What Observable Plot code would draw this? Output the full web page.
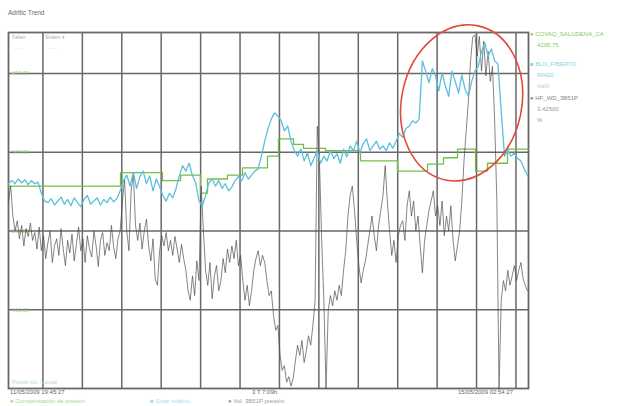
<!DOCTYPE html>
<html>
<head>
<meta charset="utf-8">
<script src="https://cdn.jsdelivr.net/npm/d3@7"></script>
<script src="https://cdn.jsdelivr.net/npm/@observablehq/plot@0.6"></script>
<style>
  html, body { margin: 0; padding: 0; background: #fff; }
  #wrap { position: relative; width: 624px; height: 406px; overflow: hidden; font-family: "Liberation Sans", Arial, sans-serif; }
  #wrap svg { position: absolute; left: 0; top: 0; }
  .t { position: absolute; white-space: nowrap; font-size: 6px; line-height: 7px; }
</style>
</head>
<body>
<div id="wrap"></div>
<script>
// Recording window
const start = new Date(Date.UTC(2009, 4, 11, 19, 45, 27));
const spanHours = 79.15;
const gridStart = new Date(Date.UTC(2009, 4, 12, 1, 0, 0));
const gridEveryHours = 6;
const yTicks = [100, 200, 300, 400];

// HF_WD_3B51P, sampled every 20 minutes
const blackStepMinutes = 20;
const blackValues = [
  238, 257, 219, 200, 213, 190, 207, 181, 203, 193, 210, 188, 198, 177, 205,
  175, 194, 165, 185, 200, 160, 181, 190, 169, 203, 177, 156, 188, 172, 196,
  162, 183, 205, 175, 190, 160, 194, 177, 167, 200, 181, 155, 188, 198, 169,
  185, 175, 207, 180, 165, 190, 200, 238, 266, 200, 175, 251, 274, 207, 188,
  210, 177, 200, 215, 181, 162, 190, 139, 131, 175, 194, 181, 198, 175, 188,
  169, 193, 177, 160, 183, 165, 150, 124, 112, 143, 118, 162, 137, 257, 200,
  150, 131, 160, 114, 143, 156, 124, 137, 165, 147, 177, 160, 181, 165, 188,
  156, 169, 137, 112, 131, 105, 124, 150, 165, 175, 156, 169, 160, 137, 118,
  124, 93, 74, 80, 42, 23, 29, 8, 15, 3, 13, 35, 55, 42, 61,
  33, 48, 67, 55, 80, 112, 333, 289, 188, 112, 0, 99, 118, 105, 124,
  112, 131, 118, 150, 175, 219, 245, 257, 226, 188, 156, 134, 150, 162, 181,
  200, 219, 194, 175, 207, 226, 245, 283, 238, 200, 169, 188, 160, 194, 207,
  213, 188, 232, 251, 219, 238, 200, 219, 181, 147, 188, 207, 226, 238, 251,
  219, 232, 207, 238, 194, 219, 200, 232, 188, 162, 181, 200, 238, 289, 327,
  365, 416, 447, 449, 422, 447, 403, 441, 397, 428, 390, 409, 340, 238, 0,
  112, 137, 124, 150, 131, 143, 156, 137, 150, 160, 139, 131, 124
];

// BLD_FIBERTO, sampled every 30 minutes
const blueStepMinutes = 30;
const blueValues = [
  260, 264, 260, 266, 261, 265, 259, 264, 260, 262, 248, 238,
  236, 241, 233, 238, 243, 234, 240, 232, 242, 236, 231, 240, 245, 234, 238, 242, 233, 240, 236, 243, 237, 241,
  251, 264, 271, 257, 274, 254, 269, 276, 260, 270, 251, 266, 256,
  245, 238, 248, 242, 254, 270,
  283, 276, 286, 270, 261,
  238, 232, 245,
  261, 266, 257, 264, 254, 260, 251, 256, 264,
  269, 264, 274, 266, 271, 276, 279,
  295, 314, 330, 342, 350, 346,
  340, 327, 333, 314, 302, 295, 304,
  289, 299, 283, 292, 302, 286,
  295, 289, 302, 292, 298, 286, 304, 294,
  308, 302, 314, 299, 311, 317, 302, 308, 314, 304,
  308, 302, 312, 305,
  314, 324, 319, 330, 333, 340, 337, 342,
  416,
  403, 388, 406, 397, 378, 401, 384, 371, 403, 390, 375, 398, 380, 371,
  390, 403, 409,
  428, 439, 422, 431, 416, 412,
  352, 295,
  302, 295, 299, 292, 289,
  279, 270
];

// COVAQ_SALUDENA_CA, stepped setpoint: hours after start and new value
const greenHours = [0, 17.05, 23.44, 26.18, 29.22, 30.29, 33.33, 35.62, 39.42, 41.10,
  43.39, 44.90, 48.25, 53.58, 59.21, 63.78, 66.22, 68.35, 71.09, 72.91, 75.96];
const greenValues = [257, 274, 264, 271, 248, 266, 271, 280, 295, 317,
  310, 305, 302, 289, 276, 285, 293, 304, 276, 286, 304];

// Circled episode
const highlight = { fromHours: 59.9, toHours: 78.2, low: 262, high: 462 };

const colors = { green: "#72bf44", blue: "#5bbfdc", black: "#4a4a4a", grid: "#686868", ring: "#df4a3c" };

const HOUR = 3600e3;
const end = new Date(+start + spanHours * HOUR);
const black = blackValues.map((v, i) => ({ t: new Date(+start + i * blackStepMinutes * 60e3), v }));
const blue = blueValues.map((v, i) => ({ t: new Date(+start + i * blueStepMinutes * 60e3), v }));
const green = greenHours.map((h, i) => ({ t: new Date(+start + h * HOUR), v: greenValues[i] }));
green.push({ t: end, v: greenValues[greenValues.length - 1] });
const gridTimes = d3.utcHour.range(gridStart, end, gridEveryHours);

const plot = Plot.plot({
  width: 624,
  height: 406,
  marginTop: 32,
  marginLeft: 8,
  marginRight: 96,
  marginBottom: 18,
  style: { background: "transparent", overflow: "visible" },
  x: { type: "utc", domain: [start, end], axis: null },
  y: { domain: [0, 452], axis: null },
  marks: [
    Plot.ruleX(gridTimes, { stroke: colors.grid, strokeWidth: 1.5 }),
    Plot.ruleY(yTicks, { stroke: colors.grid, strokeWidth: 1.5 }),
    Plot.frame({ stroke: colors.grid, strokeWidth: 1.8 }),
    Plot.text(yTicks, { x: start, y: d => d, text: d => d3.format(".2f")(d), dx: 3, textAnchor: "start", fill: "#9fcf7a", fontSize: 5.5 }),
    Plot.line(green, { x: "t", y: "v", curve: "step-after", stroke: colors.green, strokeWidth: 1.3 }),
    Plot.line(black, { x: "t", y: "v", stroke: colors.black, strokeWidth: 0.8, strokeOpacity: 0.85 }),
    Plot.line(blue, { x: "t", y: "v", stroke: colors.blue, strokeWidth: 1.3 })
  ]
});

// ring around the episode, placed through the plot's scales
const sx = plot.scale("x"), sy = plot.scale("y");
const x0 = sx.apply(new Date(+start + highlight.fromHours * HOUR));
const x1 = sx.apply(new Date(+start + highlight.toHours * HOUR));
const y0 = sy.apply(highlight.low), y1 = sy.apply(highlight.high);
const cx = (x0 + x1) / 2, cy = (y0 + y1) / 2;
d3.select(plot).append("ellipse")
  .attr("cx", cx).attr("cy", cy)
  .attr("rx", (x1 - x0) / 2).attr("ry", (y0 - y1) / 2)
  .attr("transform", `rotate(12 ${cx} ${cy})`)
  .attr("fill", "none").attr("stroke", colors.ring).attr("stroke-width", 1.6);

const wrap = document.getElementById("wrap");
wrap.appendChild(plot);

const fmt = d3.utcFormat("%d/%m/%Y %H:%M:%S");
const days = Math.floor(spanHours / 24);
const rest = spanHours - days * 24;
const dur = `${days} T ${Math.floor(rest)}:${String(Math.round((rest % 1) * 60)).padStart(2, "0")}h`;

function label(text, left, top, color, extra) {
  const d = document.createElement("div");
  d.className = "t";
  d.textContent = text;
  d.style.left = left + "px";
  d.style.top = top + "px";
  d.style.color = color;
  if (extra) Object.assign(d.style, extra);
  wrap.appendChild(d);
  return d;
}

label("Adritic Trend", 8, 9, "#6a6a6a", { fontSize: "6.5px" });

// panel notes in the upper-left cells
label("Fallen", 12, 34, "#aaa", { fontSize: "5px" });
label("Sinken   \u25BE", 45, 34, "#aaa", { fontSize: "5px" });
label("- - -", 14, 45, "#ccc", { fontSize: "5px" });
label("- - - -", 48, 45, "#ccc", { fontSize: "5px" });

// series legend on the right
label("\u25CF COVAQ_SALUDENA_CA", 530, 31, "#8cc866");
label("4295.75", 537, 42, "#8cc866");
label("\u25A0 BLD_FIBERTO", 530, 61, "#8fd0e6");
label("89420", 537, 72, "#8fd0e6");
label("NaN", 537, 83, "#a9d9ea");
label("\u25CF HF_WD_3B51P", 530, 95, "#888");
label("3.42500", 537, 106, "#999");
label("%", 537, 117, "#999");

// time labels under the frame
label(fmt(start), 10, 389, "#666");
label(dur, 252, 389, "#666");
label(fmt(end), 458, 389, "#666");

// bottom legend
label("\u25CF Compensación de presión", 10, 398, "#a6d88a");
label("\u25A0 Solar relativo", 150, 398, "#a9dced");
label("\u25CF Vol. 3B51P presión", 228, 398, "#9a9a9a");

// faint note in the lower-left cell
label("Presión vol. / caudal", 12, 379, "#b9d9c4", { fontSize: "5px" });
</script>
</body>
</html>
